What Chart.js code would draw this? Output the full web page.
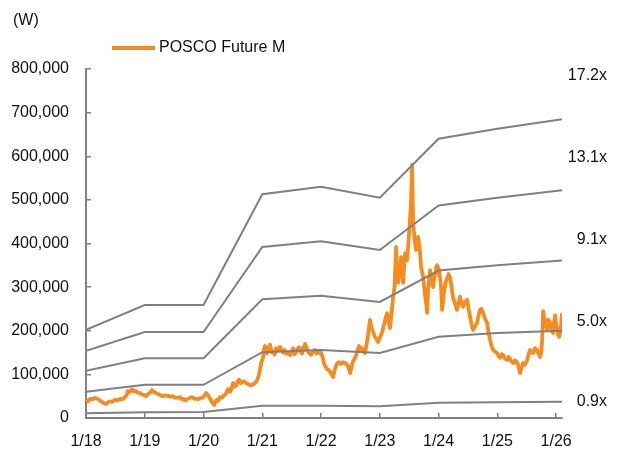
<!DOCTYPE html>
<html>
<head>
<meta charset="utf-8">
<script src="https://cdn.jsdelivr.net/npm/chart.js@4.4.1/dist/chart.umd.min.js"></script>
<style>
  html, body { margin: 0; padding: 0; background: #fff; }
  #wrap { width: 621px; height: 454px; }
</style>
</head>
<body>
<div id="wrap"><canvas id="chart" width="621" height="454"></canvas></div>
<script>
// P/E band chart - POSCO Future M, price in won

var yearTicks = [2018, 2019, 2020, 2021, 2022, 2023, 2024, 2025, 2026];

// band lines: one point per January plus the last date
var bandYears = [2018, 2019, 2020, 2021, 2022, 2023, 2024, 2025, 2026.1];
var band172 = [202000, 259000, 259000, 513000, 530000, 505000, 640000, 663000, 685000];
var band131 = [154000, 197000, 197000, 392000, 405000, 385000, 487000, 505000, 522000];
var band91 = [108000, 137000, 137000, 272000, 280000, 266000, 338000, 350000, 361000];
var band50 = [60000, 76000, 76000, 151000, 156000, 149000, 186000, 195000, 200000];
var band09 = [11000, 13000, 14000, 28000, 28000, 27000, 35000, 36000, 37000];
var bandNames = ['17.2x', '13.1x', '9.1x', '5.0x', '0.9x'];

// share price, [decimal year, won]
var pricePoints = [
  [2018.000, 41000], [2018.034, 38000], [2018.068, 44000], [2018.110, 43000], [2018.153, 46000],
  [2018.195, 44000], [2018.238, 40000], [2018.272, 37000], [2018.306, 34000], [2018.340, 32000],
  [2018.375, 36000], [2018.409, 38000], [2018.450, 37000], [2018.494, 42000], [2018.535, 40000],
  [2018.579, 44000], [2018.620, 43000], [2018.664, 48000], [2018.690, 52000], [2018.715, 62000],
  [2018.750, 60000], [2018.783, 66000], [2018.817, 61000], [2018.851, 62000], [2018.885, 58000],
  [2018.919, 57000], [2018.953, 54000], [2018.987, 53000], [2019.020, 50000], [2019.055, 55000],
  [2019.090, 58000], [2019.123, 64000], [2019.157, 60000], [2019.191, 57000], [2019.225, 55000],
  [2019.260, 53000], [2019.300, 50000], [2019.345, 52000], [2019.390, 51000], [2019.430, 49000],
  [2019.470, 50000], [2019.515, 47000], [2019.566, 46000], [2019.600, 48000], [2019.634, 43000],
  [2019.660, 44000], [2019.685, 40000], [2019.720, 43000], [2019.753, 45000], [2019.804, 48000],
  [2019.840, 44000], [2019.872, 45000], [2019.905, 43000], [2019.940, 45000], [2019.991, 47000],
  [2020.015, 52000], [2020.043, 57000], [2020.077, 52000], [2020.100, 47000], [2020.128, 40000],
  [2020.150, 35000], [2020.179, 30000], [2020.200, 36000], [2020.230, 42000], [2020.255, 40000],
  [2020.281, 48000], [2020.315, 47000], [2020.349, 52000], [2020.380, 56000], [2020.417, 66000],
  [2020.451, 60000], [2020.475, 68000], [2020.502, 80000], [2020.530, 72000], [2020.553, 74000],
  [2020.580, 83000], [2020.604, 88000], [2020.630, 80000], [2020.655, 82000], [2020.690, 84000],
  [2020.723, 80000], [2020.760, 78000], [2020.791, 75000], [2020.825, 76000], [2020.860, 78000],
  [2020.911, 86000], [2020.945, 100000], [2020.979, 125000], [2021.013, 140000], [2021.030, 158000],
  [2021.047, 165000], [2021.081, 148000], [2021.105, 160000], [2021.132, 168000], [2021.160, 150000],
  [2021.183, 152000], [2021.210, 145000], [2021.234, 160000], [2021.270, 155000], [2021.302, 163000],
  [2021.330, 155000], [2021.353, 150000], [2021.380, 156000], [2021.404, 148000], [2021.440, 150000],
  [2021.472, 144000], [2021.500, 152000], [2021.523, 160000], [2021.550, 146000], [2021.574, 150000],
  [2021.600, 158000], [2021.626, 162000], [2021.650, 152000], [2021.677, 148000], [2021.700, 160000],
  [2021.728, 170000], [2021.755, 160000], [2021.779, 152000], [2021.805, 148000], [2021.830, 145000],
  [2021.865, 152000], [2021.898, 156000], [2021.925, 148000], [2021.949, 150000], [2022.000, 149000],
  [2022.025, 140000], [2022.051, 125000], [2022.075, 118000], [2022.102, 112000], [2022.130, 110000],
  [2022.153, 106000], [2022.180, 100000], [2022.204, 94000], [2022.230, 110000], [2022.255, 120000],
  [2022.280, 126000], [2022.306, 128000], [2022.340, 124000], [2022.374, 128000], [2022.410, 126000],
  [2022.443, 122000], [2022.470, 115000], [2022.494, 103000], [2022.520, 118000], [2022.545, 130000],
  [2022.570, 136000], [2022.596, 144000], [2022.620, 155000], [2022.647, 165000], [2022.670, 158000],
  [2022.698, 160000], [2022.725, 152000], [2022.749, 149000], [2022.775, 170000], [2022.800, 190000],
  [2022.834, 225000], [2022.860, 205000], [2022.885, 197000], [2022.910, 188000], [2022.936, 182000],
  [2022.970, 174000], [2022.995, 182000], [2023.021, 190000], [2023.045, 200000], [2023.072, 215000],
  [2023.100, 230000], [2023.123, 240000], [2023.150, 220000], [2023.174, 206000], [2023.200, 240000],
  [2023.226, 278000], [2023.250, 300000], [2023.277, 392000], [2023.295, 330000], [2023.311, 310000],
  [2023.330, 330000], [2023.345, 340000], [2023.362, 369000], [2023.380, 330000], [2023.396, 310000],
  [2023.415, 350000], [2023.430, 378000], [2023.464, 362000], [2023.480, 390000], [2023.498, 424000],
  [2023.520, 470000], [2023.532, 500000], [2023.549, 580000], [2023.566, 447000], [2023.585, 420000],
  [2023.600, 400000], [2023.617, 385000], [2023.635, 400000], [2023.651, 415000], [2023.670, 395000],
  [2023.685, 380000], [2023.702, 346000], [2023.720, 335000], [2023.736, 323000], [2023.755, 300000],
  [2023.770, 280000], [2023.790, 260000], [2023.804, 241000], [2023.821, 294000], [2023.840, 320000],
  [2023.855, 339000], [2023.880, 315000], [2023.906, 300000], [2023.925, 320000], [2023.940, 330000],
  [2023.955, 345000], [2023.974, 350000], [2024.009, 339000], [2024.025, 320000], [2024.043, 300000],
  [2024.060, 248000], [2024.077, 270000], [2024.094, 290000], [2024.120, 310000], [2024.145, 320000],
  [2024.170, 330000], [2024.196, 321000], [2024.220, 300000], [2024.247, 275000], [2024.280, 262000],
  [2024.315, 248000], [2024.340, 265000], [2024.366, 278000], [2024.390, 262000], [2024.417, 255000],
  [2024.450, 266000], [2024.485, 271000], [2024.510, 250000], [2024.536, 232000], [2024.560, 215000],
  [2024.587, 202000], [2024.620, 210000], [2024.655, 218000], [2024.680, 235000], [2024.706, 248000],
  [2024.730, 250000], [2024.757, 241000], [2024.790, 228000], [2024.826, 218000], [2024.850, 195000],
  [2024.877, 179000], [2024.900, 165000], [2024.928, 156000], [2024.960, 152000], [2024.996, 149000],
  [2025.020, 142000], [2025.047, 138000], [2025.075, 146000], [2025.098, 144000], [2025.130, 136000],
  [2025.166, 133000], [2025.190, 140000], [2025.217, 136000], [2025.240, 130000], [2025.268, 126000],
  [2025.300, 132000], [2025.336, 128000], [2025.360, 118000], [2025.387, 103000], [2025.410, 115000],
  [2025.438, 126000], [2025.470, 122000], [2025.506, 133000], [2025.530, 145000], [2025.557, 156000],
  [2025.585, 150000], [2025.609, 149000], [2025.640, 160000], [2025.677, 156000], [2025.700, 148000],
  [2025.728, 140000], [2025.745, 150000], [2025.762, 179000], [2025.779, 245000], [2025.795, 230000],
  [2025.813, 225000], [2025.830, 210000], [2025.847, 202000], [2025.870, 225000], [2025.898, 218000],
  [2025.925, 200000], [2025.949, 195000], [2025.965, 220000], [2025.983, 235000], [2026.000, 215000],
  [2026.017, 205000], [2026.035, 190000], [2026.051, 186000], [2026.075, 200000], [2026.102, 241000]
];

var FONT = '"Liberation Sans", Arial, sans-serif';
var TEXT = '#111111';
var GRAY = '#808080';
var ORANGE = '#F68B1F';

function pairs(xs, ys) {
  return xs.map(function (x, i) { return { x: x, y: ys[i] }; });
}

var bandSeries = [band172, band131, band91, band50, band09];

var datasets = bandSeries.map(function (vals, i) {
  return {
    label: bandNames[i],
    data: pairs(bandYears, vals),
    borderColor: GRAY,
    borderWidth: 2,
    pointRadius: 0,
    tension: 0
  };
});
datasets.push({
  label: 'POSCO Future M',
  data: pricePoints.map(function (p) { return { x: p[0], y: p[1] }; }),
  borderColor: ORANGE,
  backgroundColor: ORANGE,
  borderWidth: 3.8,
  borderJoinStyle: 'round',
  pointRadius: 0,
  tension: 0
});

// where the band names sit (value on the y axis)
var bandLabelAt = [786000, 596000, 408000, 220000, 37000];

var textPlugin = {
  id: 'texts',
  afterDraw: function (chart) {
    var ctx = chart.ctx;
    var area = chart.chartArea;
    var y = chart.scales.y;
    ctx.save();
    ctx.fillStyle = TEXT;
    ctx.font = '16px ' + FONT;
    ctx.textBaseline = 'middle';

    ctx.textAlign = 'left';
    ctx.fillText('(W)', 13, 21);

    // legend
    ctx.strokeStyle = ORANGE;
    ctx.lineWidth = 4;
    ctx.beginPath();
    ctx.moveTo(area.left + 26, 48);
    ctx.lineTo(area.left + 69, 48);
    ctx.stroke();
    ctx.fillText('POSCO Future M', area.left + 73, 48);

    ctx.textAlign = 'right';
    bandNames.forEach(function (name, i) {
      ctx.fillText(name, 607, y.getPixelForValue(bandLabelAt[i]));
    });
    ctx.restore();
  }
};

new Chart(document.getElementById('chart'), {
  type: 'line',
  data: { datasets: datasets },
  options: {
    responsive: false,
    animation: false,
    layout: { padding: { left: 0, right: 59, top: 69, bottom: 0 } },
    plugins: {
      legend: { display: false },
      tooltip: { enabled: false }
    },
    scales: {
      x: {
        type: 'linear',
        min: 2018,
        max: 2026.1,
        afterBuildTicks: function (scale) {
          scale.ticks = yearTicks.map(function (v) { return { value: v }; });
        },
        afterFit: function (scale) { scale.height = 36; },
        border: { display: true, color: GRAY, width: 2 },
        grid: { drawOnChartArea: false, drawTicks: true, tickLength: -5, color: GRAY, lineWidth: 1.5 },
        ticks: {
          padding: 19,
          color: TEXT,
          font: { family: FONT, size: 16 },
          maxRotation: 0,
          callback: function (v) { return '1/' + String(v).slice(2); }
        }
      },
      y: {
        min: 0,
        max: 800000,
        afterFit: function (scale) { scale.width = 86; },
        border: { display: true, color: GRAY, width: 2 },
        grid: { drawOnChartArea: false, drawTicks: true, tickLength: -5, color: GRAY, lineWidth: 1.5 },
        ticks: {
          stepSize: 100000,
          padding: 22,
          color: TEXT,
          font: { family: FONT, size: 16 },
          callback: function (v) { return v.toLocaleString('en-US'); }
        }
      }
    }
  },
  plugins: [textPlugin]
});
</script>
</body>
</html>
